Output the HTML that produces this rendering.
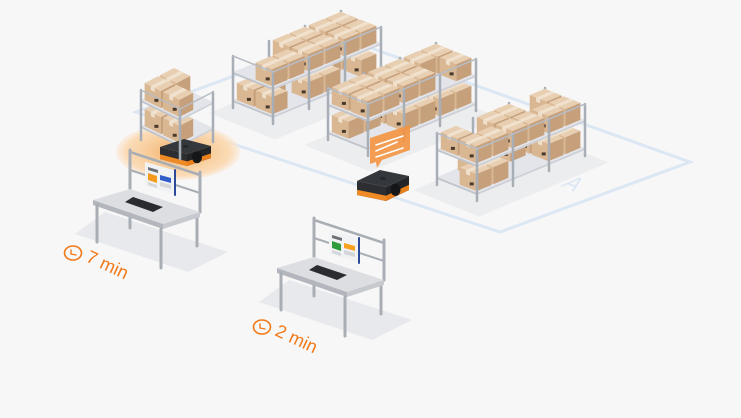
<!DOCTYPE html>
<html><head><meta charset="utf-8"><style>
html,body{margin:0;padding:0;background:#f7f7f8;}
svg{display:block;}
</style></head><body>
<svg id="s" width="741" height="418" viewBox="0 0 741 418" xmlns="http://www.w3.org/2000/svg">
<defs>
<radialGradient id="halo" cx="50%" cy="50%" r="50%">
<stop offset="0" stop-color="#f3b06a"/><stop offset="0.55" stop-color="#f8cf9f"/><stop offset="0.85" stop-color="#fbdcb8"/><stop offset="1" stop-color="#fbe7d2" stop-opacity="0.5"/>
</radialGradient>
</defs>
<rect width="741" height="418" fill="#f7f7f8"/>
<polygon points="136,112 340,37 690,162 500,232" fill="none" stroke="#dce7f4" stroke-width="3"/>
<text x="0" y="0" transform="translate(560,186) rotate(22) skewX(-30)" font-family="Liberation Sans, sans-serif" font-size="22" fill="#dce7f4">A</text>
<ellipse cx="178" cy="152" rx="62" ry="28" fill="url(#halo)"/>
<g id="scene"></g>
</svg>
<script>
var NS="http://www.w3.org/2000/svg";var S=document.getElementById('scene');
function el(t,a){var e=document.createElementNS(NS,t);for(var k in a)e.setAttribute(k,a[k]);S.appendChild(e);return e;}
function poly(pts,fill,extra){var a={points:pts.map(function(p){return p[0].toFixed(1)+','+p[1].toFixed(1)}).join(' '),fill:fill};for(var k in extra)a[k]=extra[k];return el('polygon',a);}
function line(p,q,c,w){return el('line',{x1:p[0],y1:p[1],x2:q[0],y2:q[1],stroke:c,'stroke-width':w,'stroke-linecap':'round'});}
function mk(g){return function(a,b,z){return [g.O[0]+a*g.U[0]+b*g.V[0], g.O[1]+a*g.U[1]+b*g.V[1]-z];};}
var seed=7;function rnd(){seed=(seed*9301+49297)%233280;return seed/233280;}
function box(P,a0,b0,da,db,z0,h){var a1=a0+da,b1=b0+db,z1=z0+h;
 poly([P(a0,b0,z1),P(a1,b0,z1),P(a1,b1,z1),P(a0,b1,z1)],'#e8cfb2');
 poly([P(a0,b0,z0),P(a1,b0,z0),P(a1,b0,z1),P(a0,b0,z1)],'#d9b793');
 poly([P(a1,b0,z0),P(a1,b1,z0),P(a1,b1,z1),P(a1,b0,z1)],'#c69f7b');
 var am=a0+da*0.5;poly([P(am-0.05,b0,z1),P(am+0.05,b0,z1),P(am+0.05,b1,z1),P(am-0.05,b1,z1)],'#f1e2cf');
 poly([P(am-0.05,b0,z1),P(am+0.05,b0,z1),P(am+0.05,b0,z1-4),P(am-0.05,b0,z1-4)],'#efe0cc');
 var l=P(a0+da*0.72,b0,z0+3);el('rect',{x:l[0]-2,y:l[1]-4,width:4,height:3,fill:'#4a3a2c'});}
function group(g){var P=mk(g);
 if(!g.noShadow)poly([P(-0.15,-0.5,0),P(g.nu+0.5,-0.5,0),P(g.nu+0.5,g.nv+0.1,0),P(-0.15,g.nv+0.1,0)],'#ecedef');
 var legc='#a8aeb6';
 for(var i=0;i<=g.nu;i++)for(var j=0;j<=g.nv;j++){if(!(j==0||i==g.nu))line(P(i,j,0),P(i,j,g.H),legc,2.5);}
 g.levels.forEach(function(z,li){
  poly([P(0,0,z),P(g.nu,0,z),P(g.nu,g.nv,z),P(0,g.nv,z)],'#e3e5ea');
  poly([P(0,0,z),P(g.nu,0,z),P(g.nu,0,z-2),P(0,0,z-2)],'#bfc4cb');
  poly([P(g.nu,0,z),P(g.nu,g.nv,z),P(g.nu,g.nv,z-2),P(g.nu,0,z-2)],'#cdd1d7');
  for(var j=g.nv-1;j>=0;j--){for(var i=0;i<g.nu;i++){
   var slots=[[0.05,0.52],[0.52,0.52],[0.05,0.05],[0.52,0.05]];
   slots.forEach(function(s,k){var r=rnd();if((k<2&&r<0.4)||(k>=2&&r<0.2))return;
    box(P,i+s[0],j+s[1],0.42,0.42,z,g.bh);});}}
 });
 if(g.hook)g.hook();
 for(var i=0;i<=g.nu;i++)for(var j=0;j<=g.nv;j++){if(j==0||i==g.nu)line(P(i,j,0),P(i,j,g.H),legc,2.5);}
 line(P(0,0,g.H),P(g.nu,0,g.H),'#b7bcc3',1.5);line(P(g.nu,0,g.H),P(g.nu,g.nv,g.H),'#b7bcc3',1.5);
}
function robot(A,B,C,h,x){var D=[A[0]+C[0]-B[0],A[1]+C[1]-B[1]];function dn(p,d){return [p[0],p[1]+d];}
 poly([A,D,dn(D,h),dn(A,h)],'#2c2e31');poly([dn(A,h*0.62),dn(D,h*0.62),dn(D,h),dn(A,h)],'#f08a24');
 poly([D,C,dn(C,h),dn(D,h)],'#222427');poly([dn(D,h*0.62),dn(C,h*0.62),dn(C,h),dn(D,h)],'#e9801c');
 poly([A,B,C,D],'#34373b');
 el('ellipse',{cx:(D[0]+C[0])/2-2,cy:(D[1]+C[1])/2+h*0.6,rx:5,ry:6,fill:'#151618'});
 el('ellipse',{cx:(A[0]+B[0]+C[0]+D[0])/4,cy:(A[1]+B[1]+C[1]+D[1])/4,rx:3,ry:1.6,fill:'#26282b'});}
seed=11;group({O:[233,108],U:[40,16],V:[36,-15],H:52,nu:1,nv:3,levels:[8,36],bh:17});
seed=23;group({O:[328,140],U:[40,16],V:[36,-15],H:52,nu:1,nv:3,levels:[8,36],bh:17});
poly([[370,138],[410,125],[410,150],[382,160],[377,168],[376,162],[370,164]],'#f39440',{opacity:'0.9'});
[[0,0],[0,6],[0,12]].forEach(function(o,k){line([376,145+o[1]],[403-(k==1?6:0),136+o[1]],'#fff',1.6);});
robot([357,181],[380,170],[409,176],14);
seed=5;group({O:[437,185],U:[40,16],V:[36,-15],H:52,nu:1,nv:3,levels:[8,36],bh:17});
seed=3;group({O:[141,140],U:[39,19],V:[33,-17],H:50,nu:1,nv:1,levels:[14,40],bh:17,noShadow:true,
 hook:function(){robot([160,147],[184,139],[211,146],12);}});
function table(dx,dy,c1,c2){function t(p){return [p[0]+dx,p[1]+dy];}
 poly([[105,212],[228,252],[188,272],[75,234]].map(t),'#e8e9ec');
 var lc='#a9aeb5';
 line(t([130,193]),t([130,228]),lc,3);line(t([197,216]),t([197,246]),lc,3);
 line(t([130,189]),t([130,150]),lc,3);line(t([200,212]),t([200,172]),lc,3);
 line(t([130,152]),t([200,175]),lc,2.5);line(t([130,170]),t([200,193]),lc,2);
 poly([[145,162],[174,170],[174,194],[145,186]].map(t),'#f1f2f4');
 line(t([175,170]),t([175,195]),'#2b4a98',2);
 poly([[148,167],[158,170],[158,173],[148,170]].map(t),'#6d7075');
 poly([[148,173],[157,176],[157,183],[148,180]].map(t),c1);
 poly([[160,175],[171,178],[171,183],[160,180]].map(t),c2);
 poly([[160,182],[171,185],[171,189],[160,186]].map(t),'#d4d6da');
 poly([[148,182],[157,185],[157,188],[148,185]].map(t),'#d4d6da');
 poly([[93,200],[130,189],[200,212],[163,224]].map(t),'#dcdee2');
 poly([[93,200],[163,224],[163,229],[93,205]].map(t),'#b3b7bd');
 poly([[163,224],[200,212],[200,217],[163,229]].map(t),'#c6c9ce');
 line(t([97,205]),t([97,242]),lc,3);line(t([161,229]),t([161,268]),lc,3);
 poly([[125,202],[133,197],[163,207],[153,212]].map(t),'#2a2c30');
}
table(0,0,'#f49a1c','#2f5ec9');
table(184,68,'#2e9b3c','#f6a21e');
function label(cx,cy,txt){
 el('ellipse',{cx:cx,cy:cy,rx:8.5,ry:7,fill:'none',stroke:'#f07a1a','stroke-width':1.6});
 line([cx-2,cy-3],[cx-2,cy+1],'#f07a1a',1.4);line([cx-2,cy+1],[cx+3,cy+2],'#f07a1a',1.4);
 var t=el('text',{x:0,y:0,transform:'translate('+(cx+12)+','+(cy+8)+') rotate(25)','font-family':'Liberation Sans, sans-serif','font-size':'18',fill:'#f07a1a'});t.textContent=txt;}
label(73,253,'7 min');
label(262,327,'2 min');
</script>
</body></html>
